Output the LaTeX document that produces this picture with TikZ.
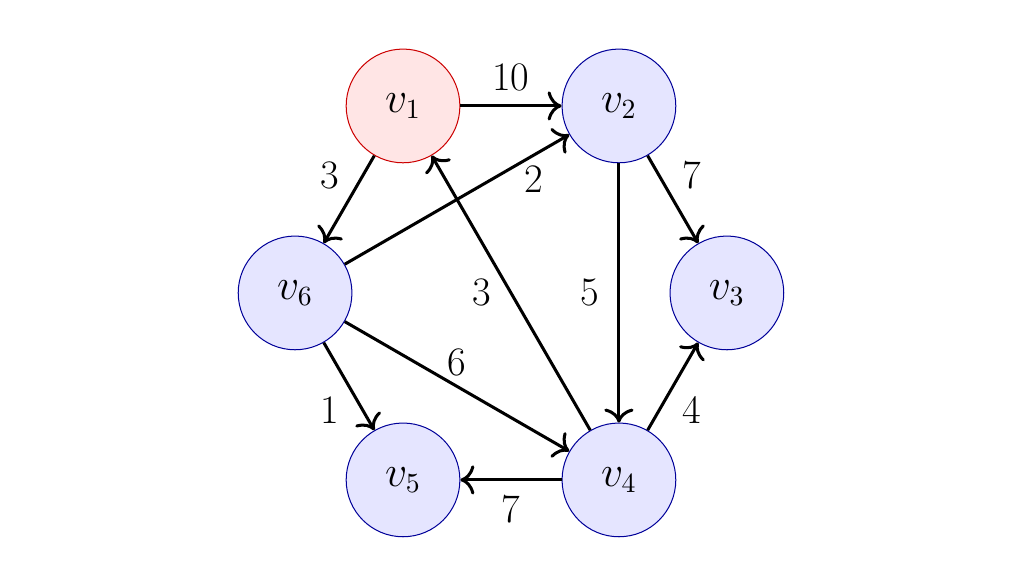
\documentclass[tikz,border=0pt]{standalone}
\usepackage{amsmath,amsfonts,amssymb}
\usepackage{xcolor}
\usepackage{tikz}
\usetikzlibrary{arrows.meta}

\begin{document}
\begin{tikzpicture}[every node/.style={font=\fontsize{16}{19}\selectfont},
  vertex/.style={circle, draw=blue!60!black, fill=blue!10, minimum size=1.58cm},
  start/.style={circle, draw=red!80!black, fill=red!10, minimum size=1.58cm},
  edge/.style={-{To[scale=1.3]}, very thick}]
				\useasboundingbox (-7.10,-4.04) rectangle (7.17,4.07);
				\node (v1) at (120:3) [start] {$v_1$};
				\node (v2) at (60:3) [vertex] {$v_2$};
				\node (v3) at (0:3) [vertex] {$v_3$};
				\node (v4) at (-60:3) [vertex] {$v_4$};
				\node (v5) at (-120:3) [vertex] {$v_5$};
				\node (v6) at (180:3) [vertex] {$v_6$};
				\draw[edge] (v1) -- node[above=2pt] {10} (v2);
				\draw[edge] (v1) -- node[above left] {3} (v6);
				\draw[edge] (v6) -- node[pos=0.84, below] {2} (v2);
				\draw[edge] (v2) -- node[above right] {7} (v3);
				\draw[edge] (v2) -- node[left=4pt] {5} (v4);
				\draw[edge] (v4) -- node[left=4pt] {3} (v1);
				\draw[edge] (v4) -- node[below right] {4} (v3);
				\draw[edge] (v6) -- node[above] {6} (v4);
				\draw[edge] (v6) -- node[below left] {1} (v5);
				\draw[edge] (v4) -- node[below=2pt] {7} (v5);
			\end{tikzpicture}
\end{document}
